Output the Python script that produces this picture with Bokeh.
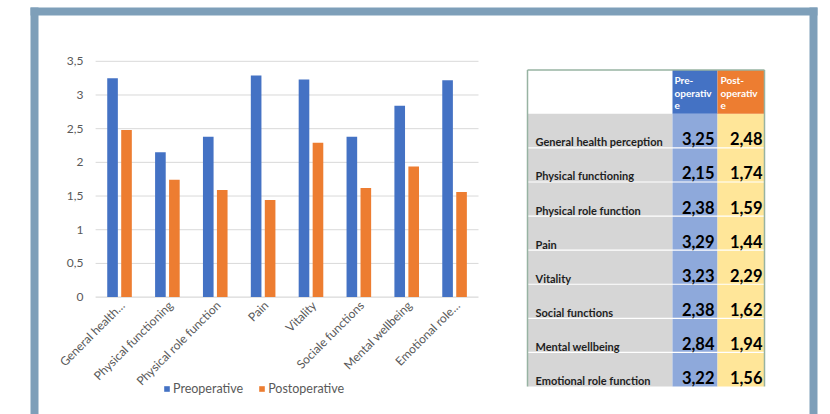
import numpy as np
from bokeh.plotting import figure
from bokeh.models import Range1d, Legend, LegendItem
from bokeh.core.properties import value
from bokeh.embed import file_html
from bokeh.resources import INLINE

# ---------------- data ----------------
categories = ["General health\u2026", "Physical functioning", "Physical role function", "Pain",
              "Vitality", "Sociale functions", "Mental wellbeing", "Emotional role\u2026"]
table_labels = ["General health perception", "Physical functioning", "Physical role function", "Pain",
                "Vitality", "Social functions", "Mental wellbeing", "Emotional role function"]
preoperative = [3.25, 2.15, 2.38, 3.29, 3.23, 2.38, 2.84, 3.22]
postoperative = [2.48, 1.74, 1.59, 1.44, 2.29, 1.62, 1.94, 1.56]
y_ticks = [0, 0.5, 1, 1.5, 2, 2.5, 3, 3.5]
y_tick_labels = ["0", "0,5", "1", "1,5", "2", "2,5", "3", "3,5"]
series_names = ["Preoperative", "Postoperative"]
header_pre = ["Pre-", "operativ", "e"]
header_post = ["Post-", "operativ", "e"]

# ---------------- layout ----------------
W, H = 830, 414
PL, PR, PT, PB = 95.1, 478.0, 60.8, 296.6
YMAX = 3.5
n = len(categories)
step = (PR - PL) / n
k = (PB - PT) / YMAX

BLUE, ORANGE = "#4472C4", "#ED7D31"
TXT = "#595959"
FONT = value("Lato")

p = figure(width=W, height=H, title=None, toolbar_location=None, output_backend="svg",
           x_range=Range1d(0, W), y_range=Range1d(H, 0),
           x_axis_type=None, y_axis_type=None, min_border=0,
           outline_line_color=None, background_fill_color="white",
           border_fill_color="white")
p.grid.visible = False
p.extra_x_ranges = {"cat": Range1d(start=-PL / step, end=(W - PL) / step)}
p.extra_y_ranges = {"val": Range1d(start=-(H - PB) / k, end=PB / k)}

# outer frame
FC = "#7E9FB9"
p.quad(left=[30, 30, 809], right=[38, 817, 817], top=[7, 7, 7], bottom=[H, 15, H],
       fill_color=FC, line_color=None)

# ---------------- bar chart ----------------
p.segment(x0=PL, x1=PR, y0=y_ticks[1:], y1=y_ticks[1:], y_range_name="val",
          line_color="#D9D9D9", line_width=1)
p.segment(x0=PL, x1=PR, y0=[0], y1=[0], y_range_name="val",
          line_color="#CFCFCF", line_width=1)
p.text(x=[83] * len(y_ticks), y=y_ticks, text=y_tick_labels, y_range_name="val",
       text_font=FONT, text_font_size="12px", text_color=TXT,
       text_align="right", text_baseline="middle")

idx = np.arange(n) + 0.5
r_pre = p.vbar(x=idx - 0.146, top=preoperative, bottom=0, width=0.222,
               x_range_name="cat", y_range_name="val", fill_color=BLUE, line_color=None)
r_post = p.vbar(x=idx + 0.146, top=postoperative, bottom=0, width=0.222,
                x_range_name="cat", y_range_name="val", fill_color=ORANGE, line_color=None)

p.text(x=idx, y=[PB + 6] * n, text=categories, x_range_name="cat",
       x_offset=3, angle=np.pi / 4,
       text_font=FONT, text_font_size="12px", text_color=TXT,
       text_align="right", text_baseline="middle")

legend = Legend(items=[LegendItem(label=series_names[0], renderers=[r_pre]),
                       LegendItem(label=series_names[1], renderers=[r_post])],
                orientation="horizontal", location=(163, H - 396),
                background_fill_alpha=0, border_line_color=None,
                padding=0, margin=0, spacing=15, glyph_width=7, glyph_height=7,
                label_standoff=3, label_height=12,
                label_text_font="Lato", label_text_font_size="12.5px",
                label_text_color=TXT)
p.add_layout(legend, "center")

# ---------------- table ----------------
TL, TC1, TC2, TR = 527.0, 672.0, 717.0, 763.5
TT, HB, TB = 69.5, 113.3, 386.0
rh = (TB - HB) / n
row_top = HB + rh * np.arange(n)
row_bot = row_top + rh

p.quad(left=[TL, TC1, TC2], right=[TC1, TC2, TR], top=[HB] * 3, bottom=[TB] * 3,
       fill_color=["#D6D6D6", "#8EA9DB", "#FFE699"], line_color=None)
p.quad(left=[TC1, TC2], right=[TC2, TR], top=[TT] * 2, bottom=[HB] * 2,
       fill_color=[BLUE, ORANGE], line_color=None)
p.segment(x0=[TL] * (n - 1), x1=[TR] * (n - 1), y0=row_bot[:-1], y1=row_bot[:-1],
          line_color="white", line_width=1.2)
p.segment(x0=[TL, TL, TR + 0.5], x1=[TR + 0.5, TL, TR + 0.5], y0=[TT, TT, TT], y1=[TT, TB, TB],
          line_color="#97B3A2", line_width=1.5)

p.text(x=[TC1 + 2] * 3, y=TT + 9.5 + 13 * np.arange(3), text=header_pre,
       text_font=FONT, text_font_style="bold", text_font_size="10px", text_color="white",
       text_align="left", text_baseline="middle")
p.text(x=[TC2 + 3] * 3, y=TT + 9.5 + 13 * np.arange(3), text=header_post,
       text_font=FONT, text_font_style="bold", text_font_size="10px", text_color="white",
       text_align="left", text_baseline="middle")

p.text(x=[TL + 8] * n, y=row_bot - 6, text=table_labels,
       text_font=FONT, text_font_style="bold", text_font_size="11px", text_color="#1E1E1E",
       text_align="left", text_baseline="middle")
fmt = lambda v: f"{v:.2f}".replace(".", ",")
p.text(x=[TC2 - 3] * n, y=row_bot - 9, text=[fmt(v) for v in preoperative],
       text_font=FONT, text_font_style="bold", text_font_size="16.5px", text_color="black",
       text_align="right", text_baseline="middle")
p.text(x=[TR - 1.5] * n, y=row_bot - 9, text=[fmt(v) for v in postoperative],
       text_font=FONT, text_font_style="bold", text_font_size="16.5px", text_color="black",
       text_align="right", text_baseline="middle")

open("out.html", "w").write(file_html(p, INLINE))
